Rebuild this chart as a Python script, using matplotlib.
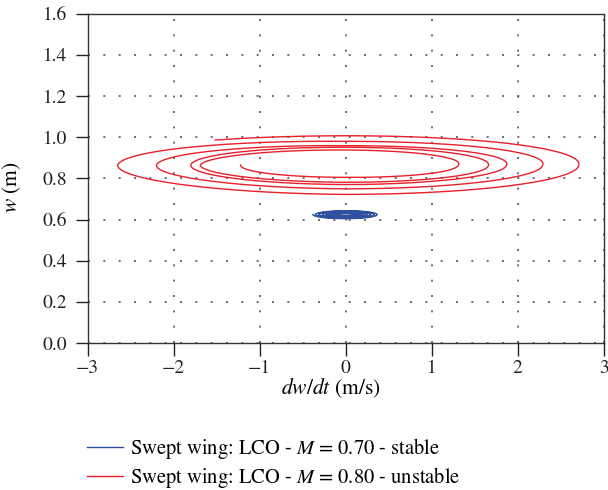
import numpy as np
import matplotlib
matplotlib.use("Agg")
import matplotlib.pyplot as plt
from matplotlib.lines import Line2D

plt.rcParams['font.family'] = ['STIXGeneral', 'DejaVu Serif']
plt.rcParams['mathtext.fontset'] = 'stix'

# ---- data ----
# Red spiral (M = 0.80, unstable): turning points, centre y
red_cy = 0.865
red_start_x = -1.22                       # left start point (theta = pi)
red_right_x = [1.31, 1.66, 1.87, 2.29, 2.71]   # successive right extremes
red_left_x = [-1.69, -1.80, -2.20, -2.65, -3.00]  # successive left extremes
red_bottom_y = [0.805, 0.781, 0.770, 0.749, 0.722]
red_top_y = [0.938, 0.951, 0.959, 0.980, 1.007]
red_end_turn = 2.12                        # end angle past last top (rad)

# Blue spiral (M = 0.70, stable): outer -> inner loops
blue_cy = 0.624
blue_rx = [0.38, 0.35, 0.31, 0.27, 0.23, 0.19, 0.15, 0.11]
blue_ry = [0.020, 0.018, 0.016, 0.013, 0.010, 0.008, 0.006, 0.004]

xticks = [-3, -2, -1, 0, 1, 2, 3]
yticks = [0.0, 0.2, 0.4, 0.6, 0.8, 1.0, 1.2, 1.4, 1.6]
labels = ["Swept wing: LCO - $M$ = 0.70 - stable",
          "Swept wing: LCO - $M$ = 0.80 - unstable"]
blue_c = "#2f4f9f"
red_c = "#e8202a"


def spiral(rx_angles, rx_vals, ry_angles, ry_vals, cy, t0, t1):
    t = np.linspace(t0, t1, 4000)
    rx = np.interp(t, rx_angles, rx_vals)
    ry = np.interp(t, ry_angles, ry_vals)
    return rx * np.cos(t), cy + ry * np.sin(t)


# red keypoint angles
n = len(red_right_x)
rx_ang = [np.pi]
rx_val = [abs(red_start_x)]
for k in range(n):
    rx_ang += [2 * np.pi * (k + 1), 2 * np.pi * (k + 1) + np.pi]
    rx_val += [red_right_x[k], abs(red_left_x[k])]
ry_ang, ry_val = [], []
for k in range(n):
    ry_ang += [1.5 * np.pi + 2 * np.pi * k, 2.5 * np.pi + 2 * np.pi * k]
    ry_val += [red_cy - red_bottom_y[k], red_top_y[k] - red_cy]
rxr, ryr = spiral(rx_ang, rx_val, ry_ang, ry_val, red_cy,
                  np.pi, 2 * np.pi * n + red_end_turn)

# blue: one x/y extent per turn
m = len(blue_rx)
b_ang = [np.pi + 2 * np.pi * k for k in range(m)]
bxr, byr = spiral(b_ang, blue_rx, b_ang, blue_ry, blue_cy,
                  np.pi, np.pi + 2 * np.pi * (m - 1))

fig = plt.figure(figsize=(6.08, 4.90), dpi=100)
ax = fig.add_axes([0.144, 0.300, 0.849, 0.672])

ax.plot(bxr, byr, color=blue_c, lw=1.1, zorder=3)
ax.plot(rxr, ryr, color=red_c, lw=1.0, zorder=3)

ax.set_xlim(-3, 3)
ax.set_ylim(0, 1.6)
ax.set_xticks(xticks)
ax.set_yticks(yticks)
ax.set_xticklabels(["\u22123", "\u22122", "\u22121", "0", "1", "2", "3"])
ax.set_yticklabels([f"{v:.1f}" for v in yticks])
ax.grid(True, color="#555555", linestyle=(0, (1.2, 8)), linewidth=1.2)
ax.tick_params(direction='out', length=9, width=1, colors='#222222',
               labelsize=14)
ax.tick_params(axis='y', pad=5.5)
ax.tick_params(axis='x', pad=3)
for s in ax.spines.values():
    s.set_color('#333333')
    s.set_linewidth(1.0)

ax.set_xlabel("$dw/dt$ (m/s)", fontsize=15.5)
ax.xaxis.set_label_coords(0.471, -0.1)
ax.set_ylabel("$w$ (m)", fontsize=15.5)
ax.yaxis.set_label_coords(-0.125, 0.474)

handles = [Line2D([], [], color=blue_c, lw=1.0),
           Line2D([], [], color=red_c, lw=1.0)]
fig.legend(handles, labels, loc='upper left', bbox_to_anchor=(0.1426, 0.11),
           frameon=False, fontsize=14.8, handlelength=1.75, handletextpad=0.36,
           labelspacing=0.2, borderaxespad=0, borderpad=0)

fig.savefig("out.png", dpi=100)
